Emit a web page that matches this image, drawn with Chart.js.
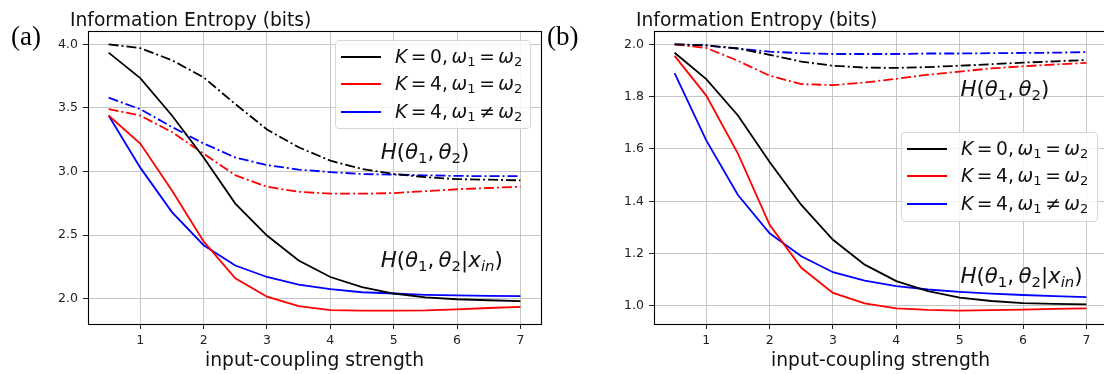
<!DOCTYPE html>
<html>
<head>
<meta charset="utf-8">
<script src="https://cdn.jsdelivr.net/npm/chart.js@4.4.0/dist/chart.umd.min.js"></script>
<style>
  html, body { margin: 0; padding: 0; background: #fff; }
  #wrap { position: relative; width: 1104px; height: 374px; overflow: hidden; background: #fff; }
  canvas { position: absolute; top: 0; }
  .txt { position: absolute; font-family: "DejaVu Sans", sans-serif; font-size: 18.7px; line-height: 1; color: #111; white-space: nowrap; }
  .ann { font-size: 21.3px; }
  .panel { position: absolute; font-family: "Liberation Serif", "Times New Roman", serif; font-size: 27px; line-height: 1; color: #000; }
  .m sub { font-size: 0.7em; vertical-align: -0.24em; line-height: 0; }
  .r { margin: 0 0.19em; }
  .s { display: inline-block; width: 0.2em; }
  .legend { position: absolute; box-sizing: border-box; border: 1px solid #d8d8d8; border-radius: 4px; background: rgba(255,255,255,0.8); }
  .legend .ln { position: absolute; height: 0; border-top: 2px solid #000; }
</style>
</head>
<body>
<div id="wrap">
  <canvas id="chartA" width="552" height="374" style="left:0px"></canvas>
  <canvas id="chartB" width="570" height="374" style="left:552px"></canvas>
</div>
<script>
// x positions and tick values
const xValues = [0.5, 1, 1.5, 2, 2.5, 3, 3.5, 4, 4.5, 5, 5.5, 6, 6.5, 7];
const xTicks = [1, 2, 3, 4, 5, 6, 7];
const yTicksA = [2.0, 2.5, 3.0, 3.5, 4.0];
const yTicksB = [1.0, 1.2, 1.4, 1.6, 1.8, 2.0];

const seriesLabels = [
    '<i>K</i><span class="r">=</span>0,<span class="s"></span><i>ω</i><sub>1</sub><span class="r">=</span><i>ω</i><sub>2</sub>',
    '<i>K</i><span class="r">=</span>4,<span class="s"></span><i>ω</i><sub>1</sub><span class="r">=</span><i>ω</i><sub>2</sub>',
    '<i>K</i><span class="r">=</span>4,<span class="s"></span><i>ω</i><sub>1</sub><span class="r">≠</span><i>ω</i><sub>2</sub>'
];
const seriesColors = ["#000000", "#ff0000", "#0000ff"];

// panel (a): H(theta1, theta2 | x_in)  (solid)
const condA_K0   = [3.935, 3.734, 3.44, 3.11, 2.747, 2.496, 2.30, 2.17, 2.09, 2.04, 2.01, 1.995, 1.987, 1.98];
const condA_K4eq = [3.44, 3.22, 2.85, 2.45, 2.16, 2.015, 1.94, 1.91, 1.905, 1.905, 1.907, 1.915, 1.926, 1.935];
const condA_K4ne = [3.44, 3.03, 2.68, 2.42, 2.26, 2.17, 2.11, 2.075, 2.05, 2.04, 2.03, 2.025, 2.022, 2.02];
// panel (a): H(theta1, theta2)  (dash-dot)
const jointA_K0   = [4.0, 3.97, 3.875, 3.74, 3.53, 3.33, 3.19, 3.085, 3.02, 2.98, 2.955, 2.94, 2.935, 2.93];
const jointA_K4eq = [3.49, 3.44, 3.31, 3.14, 2.97, 2.88, 2.84, 2.825, 2.825, 2.83, 2.845, 2.86, 2.87, 2.88];
const jointA_K4ne = [3.58, 3.49, 3.35, 3.22, 3.11, 3.05, 3.015, 2.995, 2.98, 2.975, 2.97, 2.965, 2.963, 2.963];

// panel (b)
const condB_K0   = [1.968, 1.867, 1.728, 1.55, 1.386, 1.253, 1.158, 1.095, 1.057, 1.032, 1.019, 1.011, 1.008, 1.006];
const condB_K4eq = [1.956, 1.804, 1.582, 1.31, 1.146, 1.05, 1.01, 0.991, 0.985, 0.982, 0.984, 0.986, 0.989, 0.991];
const condB_K4ne = [1.89, 1.633, 1.424, 1.278, 1.19, 1.129, 1.097, 1.076, 1.063, 1.054, 1.047, 1.042, 1.038, 1.034];
const jointB_K0   = [2.0, 1.996, 1.984, 1.96, 1.934, 1.918, 1.911, 1.91, 1.913, 1.918, 1.924, 1.93, 1.935, 1.94];
const jointB_K4eq = [2.0, 1.986, 1.937, 1.88, 1.848, 1.844, 1.854, 1.868, 1.884, 1.896, 1.908, 1.916, 1.923, 1.929];
const jointB_K4ne = [2.0, 1.996, 1.984, 1.972, 1.966, 1.963, 1.963, 1.963, 1.965, 1.965, 1.966, 1.967, 1.968, 1.97];

const annJoint = '<i>H</i>(<i>θ</i><sub>1</sub>,<span class="s"></span><i>θ</i><sub>2</sub>)';
const annCond = '<i>H</i>(<i>θ</i><sub>1</sub>,<span class="s"></span><i>θ</i><sub>2</sub>|<i>x</i><sub><i>in</i></sub>)';

const TICK_FONT = { family: "DejaVu Sans", size: 12.5 };
const GRID = "#c6c6c6";

// frame on top and right like matplotlib
const framePlugin = {
    id: "frame",
    afterDatasetsDraw(chart) {
        const { ctx, chartArea: a } = chart;
        const l = Math.round(a.left) + 0.5, t = Math.round(a.top) + 0.5;
        const r = Math.round(a.right) + 0.5, b = Math.round(a.bottom) + 0.5;
        ctx.save();
        ctx.strokeStyle = "#000";
        ctx.lineWidth = 1.1;
        ctx.strokeRect(l, t, r - l, b - t);
        ctx.restore();
    }
};

function makeDatasets(cond, joint) {
    const out = [];
    cond.forEach((vals, i) => out.push({
        label: seriesLabels[i],
        data: xValues.map((x, j) => ({ x: x, y: vals[j] })),
        borderColor: seriesColors[i],
        borderWidth: 1.8,
        pointRadius: 0,
        tension: 0,
        fill: false
    }));
    joint.forEach((vals, i) => out.push({
        label: seriesLabels[i],
        data: xValues.map((x, j) => ({ x: x, y: vals[j] })),
        borderColor: seriesColors[i],
        borderWidth: 1.8,
        borderDash: [10, 3, 2, 3],
        pointRadius: 0,
        tension: 0,
        fill: false
    }));
    return out;
}

function buildPanel(canvasId, datasets, yTicks, leftW, rightPad) {
    const all = datasets.flatMap(d => d.data.map(p => p.y));
    const lo = Math.min(...all), hi = Math.max(...all);
    const ym = (hi - lo) * 0.05;
    const xm = (xValues[xValues.length - 1] - xValues[0]) * 0.05;

    return new Chart(document.getElementById(canvasId), {
        type: "line",
        data: { datasets: datasets },
        options: {
            responsive: false,
            animation: false,
            layout: { padding: { top: 31, right: rightPad, bottom: 0, left: 0 } },
            plugins: { legend: { display: false }, tooltip: { enabled: false } },
            scales: {
                x: {
                    type: "linear",
                    min: xValues[0] - xm,
                    max: xValues[xValues.length - 1] + xm,
                    afterBuildTicks: s => { s.ticks = xTicks.map(v => ({ value: v })); },
                    afterFit: s => { s.height = 50; },
                    grid: { color: GRID, lineWidth: 1, tickLength: 5, tickColor: "#222" },
                    border: { color: "#000", width: 1 },
                    ticks: { font: TICK_FONT, color: "#222", padding: 4, autoSkip: false, maxRotation: 0,
                             callback: v => String(v) }
                },
                y: {
                    min: lo - ym,
                    max: hi + ym,
                    afterBuildTicks: s => { s.ticks = yTicks.map(v => ({ value: v })); },
                    afterFit: s => { s.width = leftW; },
                    grid: { color: GRID, lineWidth: 1, tickLength: 5, tickColor: "#222" },
                    border: { color: "#000", width: 1 },
                    ticks: { font: TICK_FONT, color: "#222", padding: 5, autoSkip: false,
                             callback: v => v.toFixed(1) }
                }
            }
        },
        plugins: [framePlugin]
    });
}

const chartA = buildPanel("chartA",
    makeDatasets([condA_K0, condA_K4eq, condA_K4ne], [jointA_K0, jointA_K4eq, jointA_K4ne]),
    yTicksA, 88, 11);
const chartB = buildPanel("chartB",
    makeDatasets([condB_K0, condB_K4eq, condB_K4ne], [jointB_K0, jointB_K4eq, jointB_K4ne]),
    yTicksB, 102, 15);

// texts and legends as html
const wrap = document.getElementById("wrap");

function addText(cls, html, left, top, center) {
    const d = document.createElement("div");
    d.className = cls;
    d.innerHTML = html;
    d.style.left = left + "px";
    d.style.top = top + "px";
    if (center) d.style.transform = "translateX(-50%)";
    wrap.appendChild(d);
    return d;
}

function addLegend(chart, left, top, w, h) {
    const box = document.createElement("div");
    box.className = "legend";
    box.style.left = left + "px";
    box.style.top = top + "px";
    box.style.width = w + "px";
    box.style.height = h + "px";
    const rows = [15.5, 43, 71];
    chart.data.datasets.slice(0, 3).forEach((ds, i) => {
        const ln = document.createElement("div");
        ln.className = "ln";
        ln.style.left = "5px";
        ln.style.width = "40px";
        ln.style.top = (rows[i] - 1) + "px";
        ln.style.borderTopColor = ds.borderColor;
        box.appendChild(ln);
        const t = document.createElement("div");
        t.className = "txt m";
        t.style.left = "59px";
        t.style.top = (rows[i] - 9) + "px";
        t.innerHTML = ds.label;
        box.appendChild(t);
    });
    wrap.appendChild(box);
}

function areaCenter(chart, offset) {
    return offset + (chart.chartArea.left + chart.chartArea.right) / 2;
}

addText("panel", "(a)", 11, 23.4);
addText("panel", "(b)", 547, 23.4);
addText("txt", "Information Entropy (bits)", 70, 11.2);
addText("txt", "Information Entropy (bits)", 636, 11.2);
addText("txt", "input-coupling strength", areaCenter(chartA, 0), 351.2, true);
addText("txt", "input-coupling strength", areaCenter(chartB, 552), 351.2, true);

addText("txt m ann", annJoint, 380.7, 141.3);
addText("txt m ann", annCond, 380.7, 248.7);
addText("txt m ann", annJoint, 960.5, 78);
addText("txt m ann", annCond, 960.5, 265.3);

addLegend(chartA, 335, 40, 196, 89);
addLegend(chartB, 901, 132, 197, 90);
</script>
</body>
</html>
